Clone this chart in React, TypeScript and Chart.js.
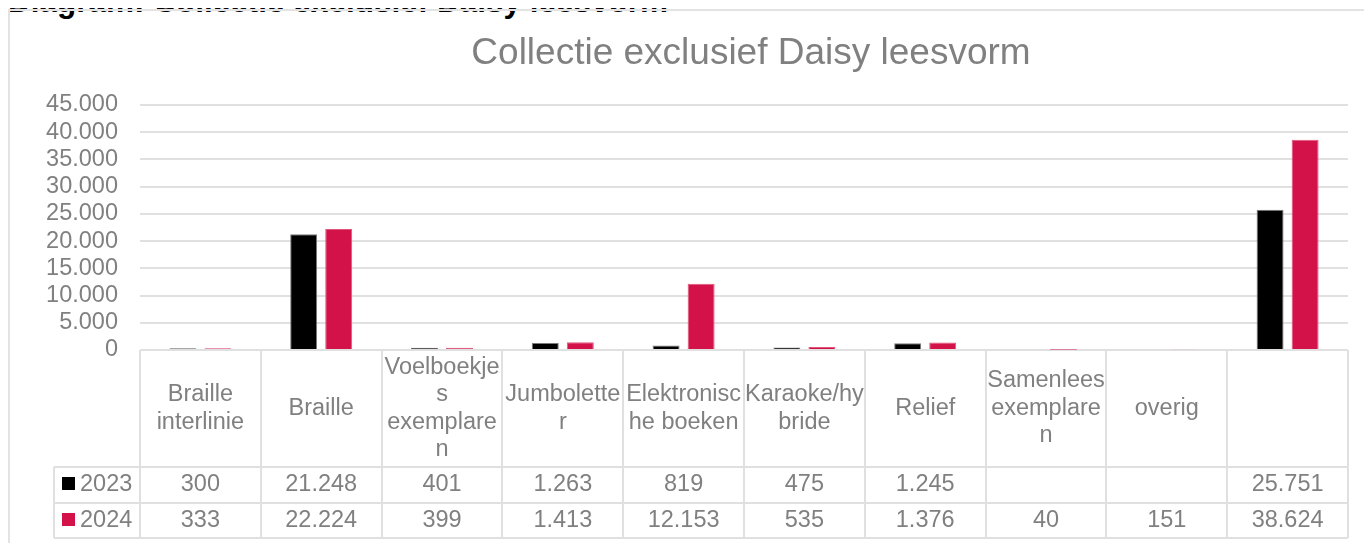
import React, { useEffect, useRef } from 'react';
import { Chart, registerables } from 'chart.js';

Chart.register(...registerables);

const heading = 'Diagram: Collectie exclusief Daisy leesvorm';
const chartTitle = 'Collectie exclusief Daisy leesvorm';
const categories = [
  'Braille interlinie',
  'Braille',
  'Voelboekjes exemplaren',
  'Jumboletter',
  'Elektronische boeken',
  'Karaoke/hybride',
  'Relief',
  'Samenlees exemplaren',
  'overig',
  '',
];
const seriesNames = ['2023', '2024'];
const values2023 = [300, 21248, 401, 1263, 819, 475, 1245, null, null, 25751];
const values2024 = [333, 22224, 399, 1413, 12153, 535, 1376, 40, 151, 38624];
const yMin = 0;
const yMax = 45000;
const yStep = 5000;

const FONT = '"Liberation Sans", Arial, sans-serif';
const TEXT = '#808080';
const GRID = '#e0e0e0';
const BLACK = '#000000';
const RED = '#d4124a';

const fmt = (v: number | null | undefined) =>
  v == null ? '' : String(v).replace(/\B(?=(\d{3})+(?!\d))/g, '.');

function wrap(ctx: CanvasRenderingContext2D, text: string, maxW: number): string[] {
  if (!text) return [];
  const words = text.split(' ');
  const lines: string[] = [];
  let cur = '';
  for (const w of words) {
    const cand = cur ? cur + ' ' + w : w;
    if (ctx.measureText(cand).width <= maxW) {
      cur = cand;
      continue;
    }
    if (cur) {
      lines.push(cur);
      cur = '';
    }
    let rest = w;
    while (ctx.measureText(rest).width > maxW && rest.length > 1) {
      let k = rest.length;
      while (k > 1 && ctx.measureText(rest.slice(0, k)).width > maxW) k--;
      lines.push(rest.slice(0, k));
      rest = rest.slice(k);
    }
    cur = rest;
  }
  if (cur) lines.push(cur);
  return lines;
}

const tablePlugin = {
  id: 'dataTable',
  afterDraw(chart: any) {
    const ctx: CanvasRenderingContext2D = chart.ctx;
    const xs = chart.scales.x;
    const area = chart.chartArea;
    const n = categories.length;
    const colW = (area.right - area.left) / n;
    const top = Math.round(area.bottom);
    const headH = 117;
    const rowH = 35.5;
    const labelLeft = Math.round(area.left - 86);
    const y1 = Math.round(top + headH);
    const y2 = Math.round(top + headH + rowH);
    const y3 = Math.round(top + headH + 2 * rowH);
    const right = Math.round(area.right);

    ctx.save();
    ctx.strokeStyle = GRID;
    ctx.lineWidth = 2;
    const line = (ax: number, ay: number, bx: number, by: number) => {
      ctx.beginPath();
      ctx.moveTo(ax, ay);
      ctx.lineTo(bx, by);
      ctx.stroke();
    };
    line(labelLeft, y1, right, y1);
    line(labelLeft, y2, right, y2);
    line(labelLeft, y3, right, y3);
    for (let i = 0; i <= n; i++) {
      const bx = i < n ? Math.round(xs.getPixelForValue(i) - colW / 2) : right;
      line(bx, top, bx, y3);
    }
    line(labelLeft, y1, labelLeft, y3);

    ctx.font = `23.5px ${FONT}`;
    ctx.fillStyle = TEXT;
    ctx.textAlign = 'center';
    ctx.textBaseline = 'middle';
    const lh = 27.5;
    categories.forEach((c, i) => {
      const cx = xs.getPixelForValue(i);
      const lines = wrap(ctx, c, colW - 1);
      const cy = top + headH / 2;
      const start = cy - ((lines.length - 1) * lh) / 2;
      lines.forEach((t, j) => ctx.fillText(t, cx, start + j * lh));
    });

    const rows = [values2023, values2024];
    const colors = chart.data.datasets.map((d: any) => d.backgroundColor);
    rows.forEach((vals, r) => {
      const cy = top + headH + rowH * r + rowH / 2;
      vals.forEach((v, i) => {
        ctx.fillText(fmt(v), xs.getPixelForValue(i), cy);
      });
      ctx.fillStyle = colors[r];
      ctx.fillRect(labelLeft + 8, Math.round(cy - 7.5), 13, 13);
      ctx.fillStyle = TEXT;
      ctx.textAlign = 'left';
      ctx.fillText(seriesNames[r], labelLeft + 26, cy);
      ctx.textAlign = 'center';
    });
    ctx.restore();
  },
};

export default function App() {
  const ref = useRef<HTMLCanvasElement | null>(null);

  useEffect(() => {
    document.documentElement.style.overflow = 'hidden';
    const canvas = ref.current;
    if (!canvas) return;
    const chart = new Chart(canvas, {
      type: 'bar',
      data: {
        labels: categories,
        datasets: [
          {
            label: seriesNames[0],
            data: values2023,
            backgroundColor: BLACK,
            borderColor: '#7a7a7a',
            borderWidth: 1,
            barPercentage: 0.77,
            categoryPercentage: 0.58,
          },
          {
            label: seriesNames[1],
            data: values2024,
            backgroundColor: RED,
            borderColor: '#e0557b',
            borderWidth: 1,
            barPercentage: 0.77,
            categoryPercentage: 0.58,
          },
        ],
      },
      options: {
        responsive: false,
        animation: false,
        layout: { padding: { left: 8, right: 8, top: 0, bottom: 0 } },
        plugins: {
          legend: { display: false },
          tooltip: { enabled: false },
          title: {
            display: true,
            text: chartTitle,
            color: TEXT,
            font: { family: FONT, size: 37, weight: 'normal', lineHeight: 1.2 },
            padding: { top: 24, bottom: 28.6 },
          },
        },
        scales: {
          x: {
            type: 'category',
            display: true,
            grid: { display: false },
            border: { display: false },
            ticks: { display: false },
            afterFit: (s: any) => {
              s.height = 193;
            },
          },
          y: {
            type: 'linear',
            position: 'left',
            min: yMin,
            max: yMax,
            border: { display: false },
            grid: { color: GRID, lineWidth: 2, drawTicks: false },
            ticks: {
              stepSize: yStep,
              autoSkip: false,
              padding: 22,
              color: TEXT,
              font: { family: FONT, size: 23.5 },
              callback: (v: any) => fmt(Number(v)),
            },
            afterFit: (s: any) => {
              s.width = 124;
            },
          },
          y2: {
            type: 'linear',
            position: 'right',
            display: true,
            grid: { display: false },
            border: { display: false },
            ticks: { display: false },
            afterFit: (s: any) => {
              s.width = 138;
            },
          },
        },
      },
      plugins: [tablePlugin],
    } as any);
    return () => chart.destroy();
  }, []);

  return (
    <div style={{ position: 'relative' }}>
      <div
        style={{
          position: 'absolute',
          left: 0,
          top: -23,
          font: `bold 31.5px ${FONT}`,
          lineHeight: '32px',
          whiteSpace: 'nowrap',
          color: '#000',
        }}
      >
        {heading}
      </div>
      <div style={{ position: 'relative', width: 1364, height: 535, overflow: 'hidden' }}>
        <div
          style={{
            position: 'absolute',
            left: 0,
            top: 1,
            width: 1486,
            height: 700,
            border: '2px solid #e3e3e3',
            boxSizing: 'border-box',
          }}
        />
        <canvas
          ref={ref}
          width={1486}
          height={535}
          style={{ position: 'absolute', left: 0, top: 0, display: 'block' }}
        />
      </div>
    </div>
  );
}
